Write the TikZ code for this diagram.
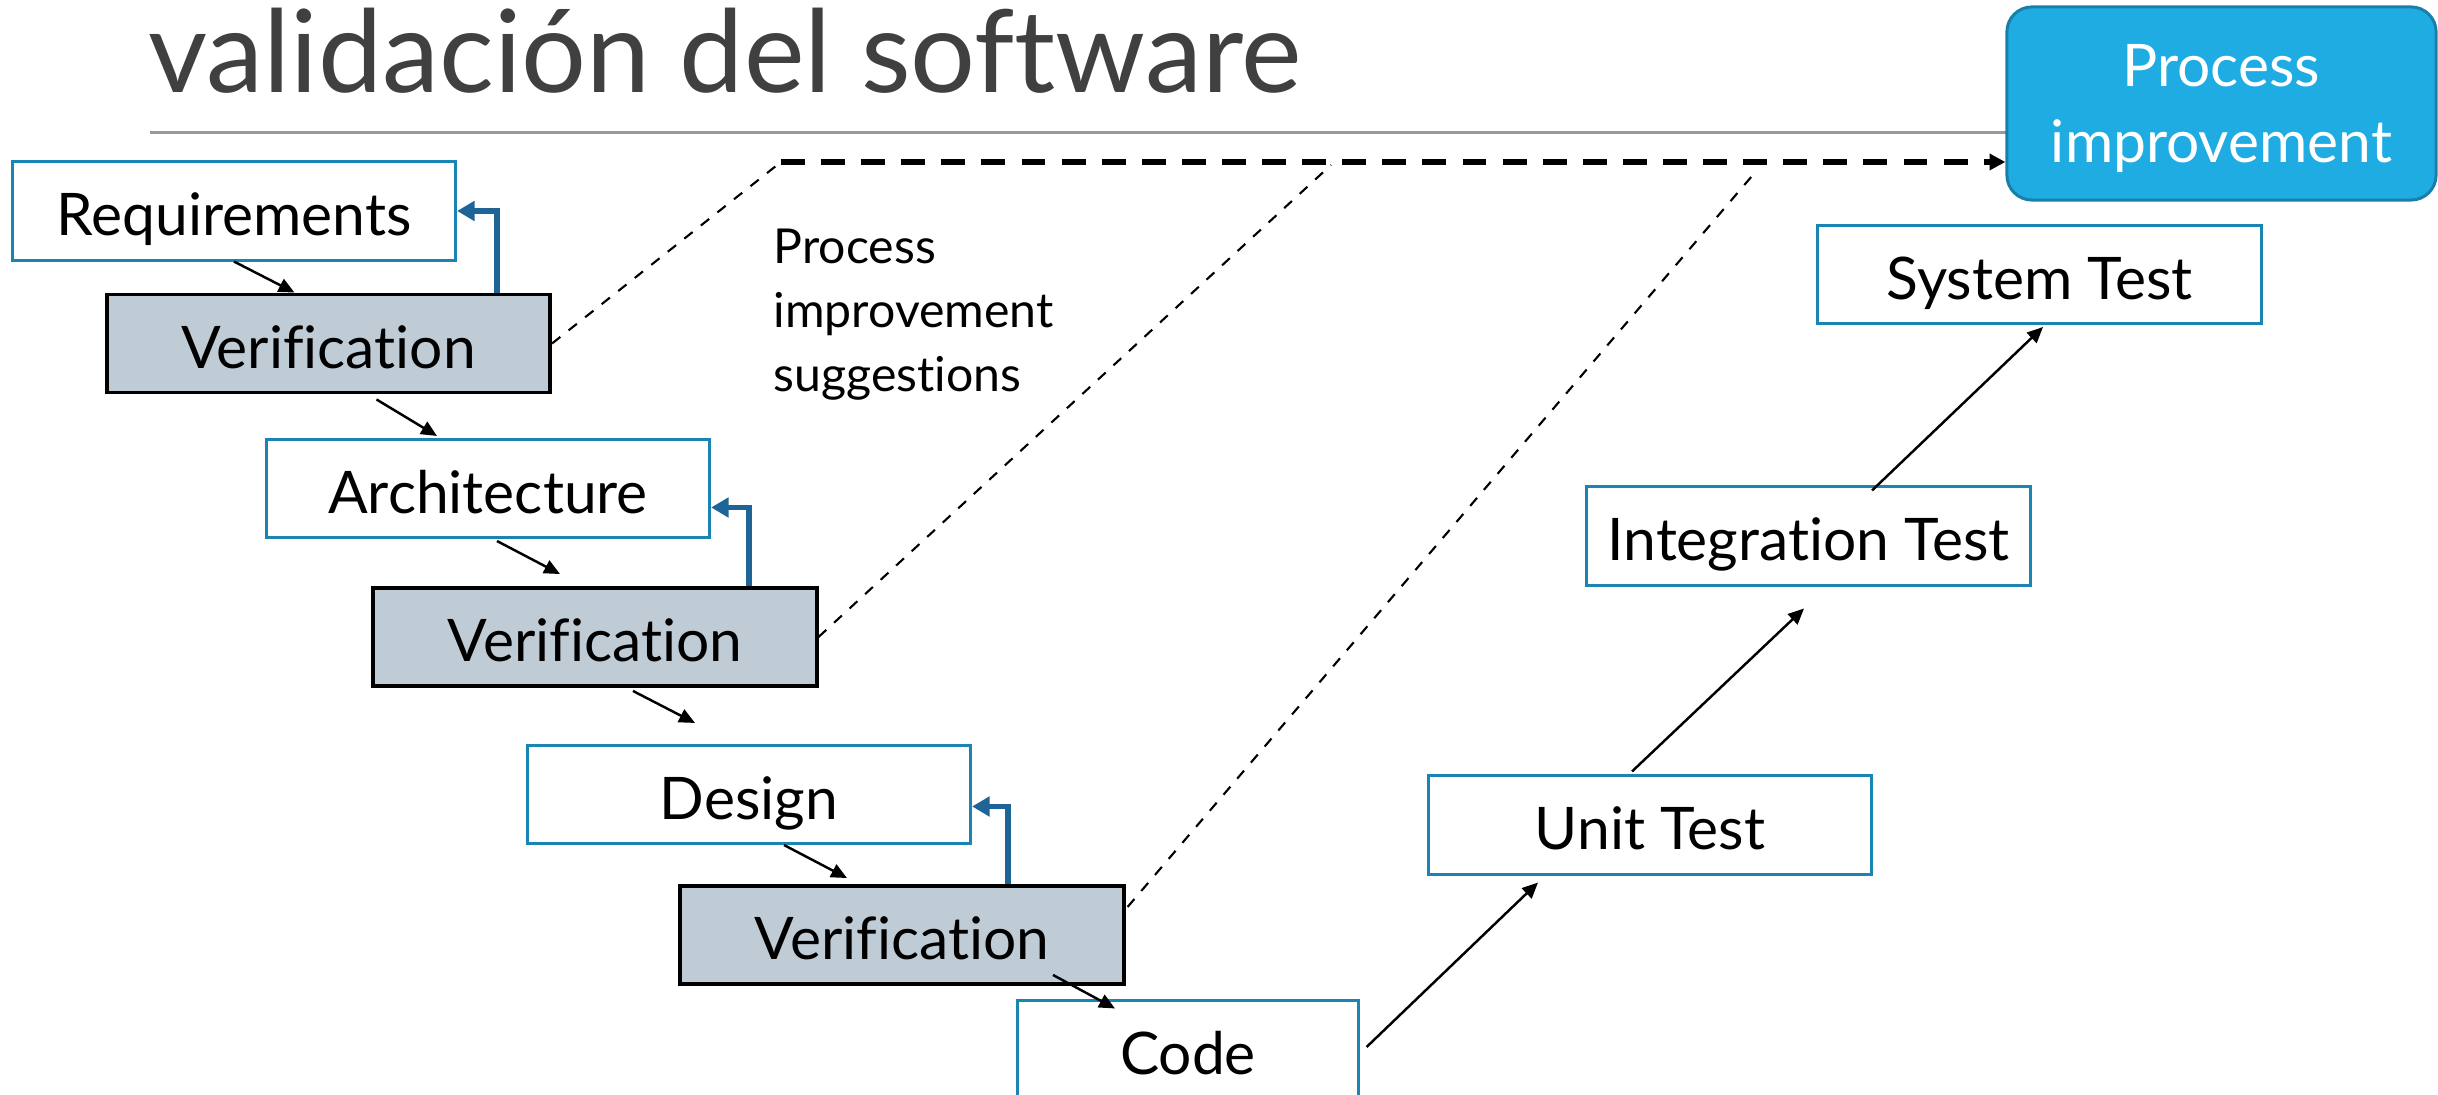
\documentclass[tikz,border=0pt]{standalone}
\usepackage{fontspec}
\setmainfont{Lato}[Ligatures=NoCommon]
\usetikzlibrary{arrows.meta,calc}

\definecolor{boxblue}{HTML}{1A85B3}
\definecolor{checkfill}{HTML}{BFCCD6}
\definecolor{backblue}{HTML}{1F6496}
\definecolor{improvefill}{HTML}{1FACE3}
\definecolor{improveline}{HTML}{1A7FA8}
\definecolor{titlegray}{HTML}{404040}
\definecolor{rulegray}{HTML}{9A9A9A}

\begin{document}
\begin{tikzpicture}[x=0.01cm, y=-0.01cm,
        phase/.style={draw=boxblue, line width=0.85pt, fill=white, inner sep=0pt,
            minimum width=4.43cm, minimum height=0.98cm,
            text height=0.49cm, text depth=0pt,
            font=\fontsize{16.7pt}{20pt}\selectfont},
        check/.style={phase, draw=black, line width=1.1pt, fill=checkfill},
        flow/.style={line width=0.7pt, -{Triangle[length=4.5pt,width=4pt]}},
        feedback/.style={draw=backblue, line width=1.7pt, -{Triangle[length=5pt,width=5.5pt]}},
        suggest/.style={dashed, line width=0.6pt},
        improve/.style={line width=1.7pt, dash pattern=on 6.8pt off 4.6pt,
            -{Triangle[length=4.5pt,width=4.5pt]}}]
    \useasboundingbox (0,0) rectangle (2438,1095);

    % title & rule
    \node[anchor=base west, inner sep=0pt, text=titlegray,
        font=\fontsize{32.6pt}{40pt}\selectfont] (title) at (148,93) {validación del software};
    \draw[rulegray, line width=0.6pt] (150,132.5) -- (2010,132.5);

    % development phases and their checks
    \node[phase] (req) at (234,211) {Requirements};
    \node[check] (ver1) at (328.5,343.5) {Verification};
    \node[phase] (arch) at (488,488.5) {Architecture};
    \node[check] (ver2) at (595,637) {Verification};
    \node[phase] (design) at (749,794.5) {Design};
    \node[check] (ver3) at (902,935) {Verification};
    \node[phase, minimum width=3.4cm] (code) at (1188,1050) {Code};

    % testing
    \node[phase] (unit) at (1650,825) {Unit Test};
    \node[phase] (integ) at (1808.5,536) {Integration Test};
    \node[phase] (system) at (2039.5,274.5) {System Test};

    % process improvement
    \node[draw=improveline, fill=improvefill, line width=0.85pt, rounded corners=0.25cm,
        minimum width=4.29cm, minimum height=1.93cm, align=center, text=white,
        text depth=0pt, font=\fontsize{16.7pt}{21.6pt}\selectfont]
        (procimp) at (2221.5,103.5) {Process\\improvement};
    \node[anchor=north west, inner sep=0pt, align=left,
        font=\fontsize{13.7pt}{18.2pt}\selectfont]
        (hint) at (773,228) {Process\\improvement\\suggestions};

    % going down
    \draw[flow] (req.south) -- ($(ver1.north)+(-34,0)$);
    \draw[flow] ($(ver1.south)+(48,5)$) -- ($(arch.north)+(-51,-2)$);
    \draw[flow] ($(arch.south)+(9,2)$) -- ($(ver2.north)+(-35,-12)$);
    \draw[flow] ($(ver2.south)+(38,3)$) -- ($(design.north)+(-54,-21)$);
    \draw[flow] ($(design.south)+(35,0)$) -- ($(ver3.north)+(-55,-6)$);
    \draw[flow] ($(ver3.south)+(151,-11)$) -- ($(code.north)+(-73,9)$);

    % going up
    \draw[flow] ($(code.east)+(7,-3)$) -- ($(unit.south)+(-112,7)$);
    \draw[flow] ($(unit.north)+(-18,-3)$) -- ($(integ.south)+(-4.5,22)$);
    \draw[flow] ($(integ.north)+(63.5,5)$) -- ($(system.south)+(3.5,2)$);

    % back to the phase that was checked
    \draw[feedback] ($(ver1.north)+(168.5,0)$) |- (req.east);
    \draw[feedback] ($(ver2.north)+(154,0)$) |- ($(arch.east)+(0,19)$);
    \draw[feedback] ($(ver3.north)+(106,0)$) |- ($(design.east)+(0,12)$);

    % suggestions
    \coordinate (join1) at (781,162);
    \coordinate (join2) at (1331,165);
    \coordinate (join3) at (1752,176);
    \draw[suggest] (ver1.east) -- (join1);
    \draw[suggest] (ver2.east) -- (join2);
    \draw[suggest] ($(ver3.east)+(2,-28)$) -- (join3);
    \draw[improve] (join1) -- (join1 -| procimp.west);
\end{tikzpicture}
\end{document}
